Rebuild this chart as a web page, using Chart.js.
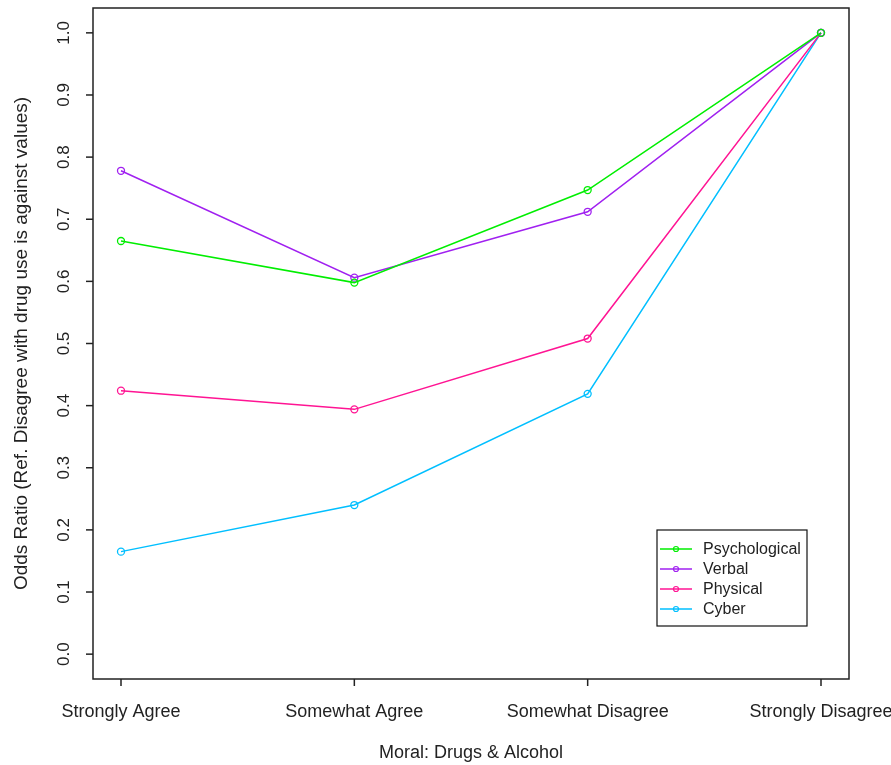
<!DOCTYPE html>
<html><head><meta charset="utf-8">
<script src="https://cdn.jsdelivr.net/npm/chart.js@4.4.1/dist/chart.umd.min.js"></script>
<style>html,body{margin:0;padding:0;background:#fff;}#wrap{width:891px;height:765px;}</style>
</head><body><div id="wrap"><canvas id="c" width="891" height="765"></canvas></div>
<script>
const categories = ["Strongly Agree","Somewhat Agree","Somewhat Disagree","Strongly Disagree"];
const yTicks = [0.0,0.1,0.2,0.3,0.4,0.5,0.6,0.7,0.8,0.9,1.0];
const psychological = [0.665,0.598,0.747,1.0];
const verbal = [0.778,0.606,0.712,1.0];
const physical = [0.424,0.394,0.508,1.0];
const cyber = [0.165,0.240,0.419,1.0];
const seriesNames = ["Psychological","Verbal","Physical","Cyber"];
const seriesColors = ["#00EE00","#A020F0","#FF1493","#00BFFF"];
const seriesData = [psychological, verbal, physical, cyber];

const FONT = "'Liberation Sans', Arial, sans-serif";

const datasets = seriesData.map((arr,i)=>({
  label: seriesNames[i],
  data: arr.map((v,j)=>({x:j+1,y:v})),
  borderColor: seriesColors[i],
  backgroundColor: 'rgba(0,0,0,0)',
  pointBorderColor: seriesColors[i],
  pointBackgroundColor: 'rgba(0,0,0,0)',
  borderWidth: 1.5,
  pointRadius: 3.5,
  pointBorderWidth: 1.3,
  tension: 0
}));

const boxPlugin = {
  id:'boxPlugin',
  afterDraw(chart){
    const ctx = chart.ctx, a = chart.chartArea;
    ctx.save();
    ctx.strokeStyle = '#222'; ctx.lineWidth = 1.5;
    ctx.strokeRect(a.left, a.top, a.right-a.left, a.bottom-a.top);
    ctx.fillStyle = '#222';
    // y ticks + rotated labels
    const ys = chart.scales.y;
    ctx.font = '17px ' + FONT;
    ctx.textAlign = 'center'; ctx.textBaseline = 'middle';
    yTicks.forEach(t=>{
      const py = ys.getPixelForValue(t);
      ctx.beginPath(); ctx.moveTo(a.left, py); ctx.lineTo(a.left-7, py); ctx.stroke();
      ctx.save(); ctx.translate(64, py); ctx.rotate(-Math.PI/2);
      ctx.fillText(t.toFixed(1), 0, 0); ctx.restore();
    });
    // x ticks + labels
    const xs = chart.scales.x;
    ctx.font = '18px ' + FONT;
    categories.forEach((c,i)=>{
      const px = xs.getPixelForValue(i+1);
      ctx.beginPath(); ctx.moveTo(px, a.bottom); ctx.lineTo(px, a.bottom+7); ctx.stroke();
      ctx.fillText(c, px, 712);
    });
    ctx.fillText('Moral: Drugs & Alcohol', (a.left+a.right)/2, 753);
    // y title
    ctx.save(); ctx.translate(22, (a.top+a.bottom)/2); ctx.rotate(-Math.PI/2);
    ctx.font = '19px ' + FONT;
    ctx.fillText("Odds Ratio (Ref. Disagree with drug use is against values)", 0, 0);
    ctx.restore();
    // legend
    const lx = 657, ly = 530, lw = 150, lh = 96;
    ctx.fillStyle = '#fff'; ctx.fillRect(lx, ly, lw, lh);
    ctx.strokeStyle = '#111'; ctx.lineWidth = 1.2; ctx.strokeRect(lx, ly, lw, lh);
    ctx.font = '16px ' + FONT; ctx.textAlign = 'left';
    seriesNames.forEach((n,i)=>{
      const yy = ly + 19 + i*20;
      ctx.strokeStyle = seriesColors[i]; ctx.lineWidth = 1.5;
      ctx.beginPath(); ctx.moveTo(lx+3, yy); ctx.lineTo(lx+35, yy); ctx.stroke();
      ctx.lineWidth = 1.2;
      ctx.beginPath(); ctx.arc(lx+19, yy, 2.5, 0, Math.PI*2); ctx.stroke();
      ctx.fillStyle = '#222';
      ctx.fillText(n, lx+46, yy+1);
    });
    ctx.restore();
  }
};

new Chart(document.getElementById('c'), {
  type:'line',
  data:{datasets},
  options:{
    responsive:false, animation:false,
    layout:{padding:{top:8,right:42,left:93,bottom:86}},
    plugins:{legend:{display:false}, tooltip:{enabled:false}},
    scales:{
      x:{type:'linear', min:0.88, max:4.12, display:false},
      y:{type:'linear', min:-0.04, max:1.04, display:false}
    }
  },
  plugins:[boxPlugin]
});
</script></body></html>
